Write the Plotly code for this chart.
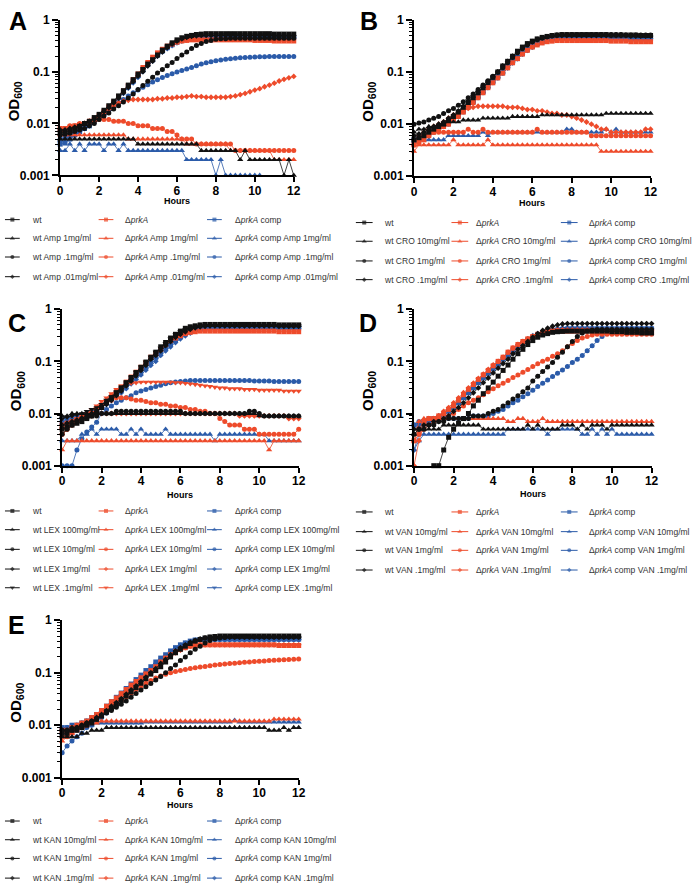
import plotly.graph_objects as go

W, H = 696, 892

HOURS = [0, 0.25, 0.5, 0.75, 1, 1.25, 1.5, 1.75,
         2, 2.25, 2.5, 2.75, 3, 3.25, 3.5, 3.75,
         4, 4.25, 4.5, 4.75, 5, 5.25, 5.5, 5.75,
         6, 6.25, 6.5, 6.75, 7, 7.25, 7.5, 7.75,
         8, 8.25, 8.5, 8.75, 9, 9.25, 9.5, 9.75,
         10, 10.25, 10.5, 10.75, 11, 11.25, 11.5, 11.75,
         12]
X_TICKS = [0, 2, 4, 6, 8, 10, 12]
Y_TICKS = [0.001, 0.01, 0.1, 1]
Y_TICK_TEXT = ["0.001", "0.01", "0.1", "1"]

# ---------------- Panel A (Amp) ----------------
A_WT = [.0065,.0068,.0072,.0078,.0088,.010,.011,.013,
        .015,.018,.022,.027,.034,.043,.055,.070,
        .090,.11,.14,.17,.21,.26,.31,.36,
        .41,.45,.48,.50,.52,.53,.54,.54,
        .54,.54,.54,.54,.54,.54,.54,.54,
        .54,.54,.54,.54,.53,.53,.53,.53,
        .53]
A_WT_AMP1 = [.005,.005,.005,.005,.005,.005,.005,.005,
             .005,.005,.005,.005,.005,.005,.005,.005,
             .004,.004,.004,.004,.004,.004,.004,.004,
             .004,.004,.004,.004,.004,.003,.003,.003,
             .003,.003,.003,.003,.003,.002,.003,.002,
             .002,.002,.002,.002,.002,.002,.001,.002,
             .001]
A_WT_AMP01 = [.006,.0062,.0065,.007,.0075,.008,.009,.010,
              .012,.014,.016,.019,.022,.026,.031,.037,
              .045,.054,.065,.078,.094,.11,.13,.15,
              .18,.21,.24,.28,.32,.35,.38,.40,
              .42,.43,.43,.44,.44,.44,.44,.44,
              .44,.44,.44,.44,.44,.44,.44,.44,
              .44]
A_WT_AMP001 = [.0075,.0075,.008,.0085,.009,.010,.011,.012,
               .014,.017,.020,.025,.031,.039,.050,.064,
               .082,.10,.13,.16,.20,.24,.29,.34,
               .39,.43,.46,.48,.49,.50,.50,.50,
               .50,.50,.50,.50,.50,.50,.50,.50,
               .50,.50,.50,.50,.49,.49,.49,.49,
               .49]
A_D = [.008,.008,.0085,.009,.0095,.010,.011,.012,
       .014,.017,.021,.026,.033,.042,.054,.070,
       .090,.12,.15,.19,.23,.27,.31,.34,
       .37,.39,.40,.41,.41,.41,.41,.41,
       .41,.41,.41,.41,.41,.41,.41,.41,
       .40,.40,.40,.40,.39,.39,.39,.39,
       .39]
A_D_AMP1 = [.006,.006,.006,.006,.006,.006,.006,.006,
            .006,.006,.006,.006,.006,.006,.005,.005,
            .005,.005,.005,.005,.005,.005,.005,.005,
            .005,.005,.004,.004,.004,.004,.004,.004,
            .004,.004,.004,.003,.003,.003,.003,.003,
            .003,.003,.003,.003,.002,.002,.002,.002,
            .002]
A_D_AMP01 = [.008,.008,.009,.009,.010,.010,.011,.011,
             .012,.012,.012,.011,.011,.011,.010,.010,
             .009,.009,.009,.008,.008,.008,.007,.007,
             .006,.005,.005,.005,.004,.004,.004,.004,
             .004,.004,.004,.004,.003,.003,.003,.003,
             .003,.003,.003,.003,.003,.003,.003,.003,
             .003]
A_D_AMP001 = [.007,.007,.008,.008,.009,.010,.011,.012,
              .014,.016,.019,.022,.025,.027,.028,.029,
              .029,.029,.029,.029,.030,.030,.031,.031,
              .032,.032,.033,.034,.033,.033,.032,.032,
              .032,.032,.032,.033,.034,.036,.038,.041,
              .044,.047,.051,.055,.060,.066,.071,.076,
              .081]
A_C = [.004,.0042,.005,.006,.007,.008,.009,.011,
       .013,.016,.020,.025,.032,.041,.052,.066,
       .084,.11,.14,.17,.21,.25,.29,.33,
       .37,.40,.42,.44,.45,.46,.46,.46,
       .46,.46,.46,.46,.46,.46,.46,.46,
       .46,.46,.46,.46,.46,.46,.46,.46,
       .46]
A_C_AMP1 = [.003,.003,.004,.003,.004,.003,.004,.004,
            .004,.003,.004,.004,.003,.004,.003,.003,
            .003,.003,.003,.003,.003,.003,.003,.003,
            .003,.003,.002,.002,.002,.002,.002,.002,
            .001,.002,.001,.001,.001,.001,.001,.001,
            .001,.001,None,None,None,None,None,None,
            None]
A_C_AMP01 = [.005,.0055,.006,.007,.008,.009,.010,.011,
             .013,.015,.018,.021,.025,.029,.034,.039,
             .044,.050,.056,.063,.070,.077,.084,.091,
             .098,.105,.112,.12,.13,.14,.148,.155,
             .162,.168,.173,.178,.182,.185,.188,.19,
             .192,.193,.194,.195,.195,.195,.195,.195,
             .195]
A_C_AMP001 = [.0045,.005,.0055,.006,.007,.008,.009,.011,
              .013,.016,.019,.024,.030,.038,.048,.061,
              .078,.10,.13,.16,.20,.24,.28,.32,
              .36,.39,.41,.43,.44,.45,.45,.45,
              .45,.45,.45,.45,.45,.45,.45,.45,
              .45,.45,.45,.45,.45,.45,.45,.45,
              .45]

# ---------------- Panel B (CRO) ----------------
B_WT = [.005,.0055,.006,.007,.008,.009,.010,.012,
        .014,.017,.021,.026,.032,.040,.050,.063,
        .079,.10,.13,.16,.20,.25,.30,.35,
        .39,.43,.46,.48,.50,.51,.52,.52,
        .52,.52,.52,.52,.52,.52,.52,.52,
        .51,.51,.51,.51,.51,.51,.50,.50,
        .50]
B_WT_CRO10 = [.007,.008,.008,.009,.009,.010,.010,.011,
              .011,.011,.012,.012,.012,.012,.013,.013,
              .013,.013,.013,.013,.014,.014,.014,.014,
              .014,.014,.015,.015,.015,.015,.015,.015,
              .015,.015,.015,.015,.015,.015,.015,.016,
              .016,.016,.016,.016,.016,.016,.016,.016,
              .016]
B_WT_CRO1 = [.010,.0105,.011,.012,.013,.014,.016,.018,
             .020,.023,.027,.032,.038,.046,.056,.068,
             .083,.10,.12,.15,.19,.23,.28,.33,
             .38,.42,.45,.48,.50,.51,.52,.52,
             .52,.52,.52,.52,.52,.52,.52,.52,
             .52,.52,.52,.51,.51,.51,.51,.51,
             .51]
B_WT_CRO01 = [.006,.0065,.007,.008,.009,.010,.011,.013,
              .015,.018,.022,.027,.033,.041,.051,.064,
              .080,.10,.13,.16,.20,.24,.29,.34,
              .38,.42,.45,.47,.49,.50,.50,.50,
              .50,.50,.50,.50,.50,.50,.50,.50,
              .50,.50,.50,.50,.49,.49,.49,.49,
              .49]
B_D = [.004,.0045,.005,.006,.007,.008,.009,.010,
       .012,.014,.017,.021,.026,.032,.040,.050,
       .062,.077,.095,.12,.15,.18,.22,.26,
       .30,.33,.36,.38,.39,.40,.40,.40,
       .40,.40,.40,.40,.40,.40,.40,.40,
       .39,.39,.39,.39,.38,.38,.38,.38,
       .38]
B_D_CRO10 = [.003,.004,.004,.004,.004,.004,.004,.004,
             .005,.004,.004,.004,.004,.004,.004,.005,
             .004,.004,.004,.004,.004,.004,.004,.004,
             .004,.004,.004,.004,.004,.004,.004,.004,
             .004,.004,.004,.004,.004,.004,.003,.003,
             .003,.003,.003,.003,.003,.003,.003,.003,
             .003]
B_D_CRO1 = [.004,.005,.006,.006,.007,.007,.007,.007,
            .007,.007,.007,.008,.007,.007,.008,.007,
            .007,.007,.007,.007,.007,.007,.007,.007,
            .007,.008,.007,.007,.007,.007,.007,.007,
            .007,.007,.007,.007,.006,.006,.006,.006,
            .006,.006,.006,.006,.006,.006,.006,.006,
            .006]
B_D_CRO01 = [.005,.006,.007,.008,.009,.010,.011,.013,
             .015,.017,.019,.020,.021,.022,.022,.022,
             .022,.022,.022,.021,.021,.021,.020,.019,
             .019,.018,.018,.017,.016,.016,.015,.015,
             .014,.013,.012,.011,.010,.009,.008,.008,
             .007,.007,.007,.007,.007,.007,.007,.008,
             .008]
B_C = [.005,.0055,.006,.007,.008,.009,.010,.011,
       .013,.015,.018,.022,.027,.034,.042,.053,
       .066,.082,.10,.13,.16,.19,.23,.27,
       .31,.35,.38,.41,.43,.44,.45,.45,
       .45,.45,.45,.45,.45,.45,.45,.45,
       .45,.45,.45,.44,.44,.44,.44,.44,
       .44]
B_C_CRO10 = [.004,.005,.005,.005,.005,.005,.005,.006,
             .006,.006,.006,.006,.006,.006,.007,.006,
             .007,.007,.007,.007,.007,.007,.007,.007,
             .007,.007,.007,.007,.007,.007,.007,.008,
             .008,.007,.007,.007,.007,.007,.007,.008,
             .007,.008,.007,.007,.007,.007,.007,.007,
             .007]
B_C_CRO1 = [.0045,.005,.0055,.006,.007,.008,.009,.010,
            .012,.014,.017,.021,.026,.032,.040,.050,
            .062,.077,.095,.12,.15,.18,.22,.26,
            .30,.34,.37,.40,.42,.43,.44,.44,
            .44,.44,.44,.44,.44,.44,.44,.44,
            .44,.44,.43,.43,.43,.43,.43,.43,
            .43]
B_C_CRO01 = [.005,.0055,.006,.0065,.0075,.0085,.0095,.011,
             .013,.015,.018,.022,.027,.033,.041,.051,
             .064,.079,.097,.12,.15,.18,.22,.26,
             .30,.34,.37,.40,.42,.43,.44,.44,
             .44,.44,.44,.44,.44,.44,.44,.44,
             .44,.44,.44,.44,.44,.44,.44,.44,
             .44]

# ---------------- Panel C (LEX) ----------------
C_WT = [.005,.0055,.006,.0065,.007,.008,.009,.011,
        .013,.016,.020,.025,.031,.039,.049,.061,
        .077,.097,.12,.15,.19,.23,.28,.33,
        .38,.43,.46,.48,.50,.51,.51,.51,
        .51,.51,.51,.51,.51,.51,.51,.51,
        .51,.51,.51,.51,.50,.50,.50,.50,
        .50]
C_WT_LEX100 = [.009,.009,.010,.010,.010,.010,.010,.010,
               .010,.010,.010,.010,.010,.010,.010,.010,
               .010,.010,.010,.010,.010,.010,.010,.010,
               .010,.010,.010,.010,.010,.010,.010,.010,
               .010,.010,.010,.010,.010,.010,.010,.010,
               .009,.009,.009,.009,.009,.009,.009,.009,
               .009]
C_WT_LEX10 = [.004,.005,.006,.007,.008,.008,.009,.009,
              .010,.010,.010,.011,.011,.011,.011,.011,
              .011,.011,.011,.011,.011,.011,.011,.011,
              .011,.010,.010,.010,.010,.010,.010,.010,
              .010,.010,.010,.010,.010,.010,.011,.011,
              .010,.009,.009,.009,.009,.009,.009,.009,
              .009]
C_WT_LEX1 = [.006,.0065,.007,.0075,.008,.009,.010,.011,
             .013,.015,.018,.022,.027,.034,.042,.053,
             .067,.084,.11,.13,.16,.20,.24,.29,
             .33,.37,.41,.44,.46,.47,.48,.48,
             .48,.48,.48,.48,.48,.48,.48,.48,
             .48,.48,.48,.48,.47,.47,.47,.47,
             .47]
C_WT_LEX01 = [.008,.0085,.009,.0095,.010,.011,.012,.013,
              .015,.018,.021,.026,.032,.040,.050,.062,
              .078,.097,.12,.15,.18,.22,.27,.32,
              .37,.41,.44,.46,.47,.48,.48,.48,
              .48,.48,.48,.48,.48,.48,.48,.48,
              .48,.48,.48,.48,.48,.48,.48,.48,
              .48]
C_D = [.006,.0065,.007,.0075,.008,.009,.010,.012,
       .014,.017,.021,.026,.032,.040,.050,.062,
       .077,.095,.12,.14,.17,.21,.25,.28,
       .31,.34,.36,.37,.38,.38,.38,.38,
       .38,.38,.38,.38,.38,.38,.38,.38,
       .38,.38,.38,.38,.37,.37,.37,.37,
       .37]
C_D_LEX100 = [.002,.003,.003,.003,.003,.003,.003,.003,
              .003,.003,.003,.003,.003,.003,.003,.003,
              .003,.003,.003,.003,.003,.003,.003,.003,
              .003,.003,.003,.003,.003,.003,.003,.003,
              .003,.003,.003,.003,.003,.003,.003,.003,
              .003,.003,.002,.003,.003,.003,.003,.003,
              .003]
C_D_LEX10 = [.004,.005,.006,.007,.008,.009,.010,.012,
             .014,.016,.018,.020,.020,.020,.019,.018,
             .018,.017,.016,.016,.015,.015,.014,.014,
             .013,.013,.012,.012,.011,.011,.010,.010,
             .008,.007,.006,.006,.006,.005,.005,.005,
             .004,.004,.004,.004,.004,.004,.004,.004,
             .005]
C_D_LEX1 = [.004,.005,.006,.007,.008,.009,.009,.010,
            .010,.010,.010,.010,.010,.010,.010,.010,
            .010,.010,.010,.010,.010,.010,.010,.010,
            .010,.010,.010,.010,.010,.010,.010,.010,
            .010,.010,.010,.010,.009,.009,.009,.009,
            .009,.009,.009,.009,.009,.009,.008,.008,
            .008]
C_D_LEX01 = [.005,.006,.007,.008,.009,.010,.012,.014,
             .017,.020,.024,.029,.034,.037,.038,.039,
             .040,.040,.040,.040,.040,.040,.040,.039,
             .039,.038,.037,.036,.035,.034,.033,.032,
             .031,.031,.030,.030,.030,.029,.029,.029,
             .028,.028,.028,.028,.028,.027,.027,.027,
             .027]
C_C = [.007,.0072,.0075,.008,.0085,.009,.010,.012,
       .014,.017,.020,.024,.029,.035,.043,.053,
       .065,.080,.10,.12,.15,.18,.22,.26,
       .30,.34,.37,.40,.42,.43,.44,.44,
       .44,.44,.44,.44,.44,.44,.44,.44,
       .44,.44,.44,.44,.44,.44,.44,.44,
       .44]
C_C_LEX100 = [.003,.003,.003,.003,.004,.004,.005,.004,
              .005,.005,.005,.005,.004,.004,.005,.004,
              .005,.004,.004,.004,.004,.005,.004,.004,
              .004,.004,.004,.004,.004,.004,.004,.003,
              .004,.004,.004,.004,.004,.004,.004,.004,
              .004,.004,.003,.003,.003,.003,.003,.003,
              .003]
C_C_LEX10 = [.001,.001,.001,.002,.0033,.0044,.0055,.0068,
             .010,.012,.014,.016,.018,.020,.022,.025,
             .027,.029,.031,.033,.035,.037,.039,.040,
             .041,.042,.043,.043,.043,.043,.043,.043,
             .043,.043,.043,.043,.043,.043,.043,.042,
             .042,.042,.042,.041,.041,.041,.041,.041,
             .041]
C_C_LEX1 = [.006,.0065,.007,.0075,.008,.009,.010,.011,
            .013,.015,.018,.021,.025,.030,.037,.045,
            .055,.068,.084,.10,.13,.16,.19,.23,
            .27,.31,.35,.38,.40,.42,.43,.43,
            .43,.43,.43,.43,.43,.43,.43,.43,
            .43,.43,.43,.43,.43,.43,.43,.43,
            .43]
C_C_LEX01 = [.008,.008,.0085,.009,.0095,.010,.011,.012,
             .014,.017,.020,.025,.030,.037,.046,.057,
             .071,.088,.11,.13,.16,.20,.24,.28,
             .32,.36,.39,.41,.43,.44,.45,.45,
             .45,.45,.45,.45,.45,.45,.45,.45,
             .45,.45,.45,.45,.45,.45,.45,.45,
             .45]

# ---------------- Panel D (VAN) ----------------
D_WT = [None,None,None,None,.001,.001,.002,.0035,
        .005,.0065,.008,.010,.014,.018,.024,.031,
        .040,.052,.067,.085,.11,.14,.17,.21,
        .25,.29,.32,.34,.36,.37,.375,.38,
        .38,.38,.38,.38,.38,.38,.38,.38,
        .37,.37,.37,.36,.36,.36,.35,.35,
        .35]
D_WT_VAN10 = [.004,.005,.005,.005,.005,.005,.006,.006,
              .006,.006,.006,.006,.006,.006,.005,.005,
              .005,.005,.005,.005,.005,.005,.005,.006,
              .005,.006,.005,.005,.005,.005,.006,.006,
              .006,.005,.006,.005,.006,.006,.006,.005,
              .006,.006,.006,.006,.006,.006,.006,.006,
              .006]
D_WT_VAN1 = [.004,.005,.005,.006,.006,.007,.007,.008,
             .008,.008,.008,.008,.009,.009,.009,.010,
             .011,.012,.014,.016,.019,.022,.026,.031,
             .042,.052,.064,.078,.095,.12,.15,.19,
             .24,.30,.35,.38,.40,.41,.41,.41,
             .41,.41,.41,.41,.41,.41,.41,.41,
             .41]
D_WT_VAN01 = [.005,.005,.006,.006,.007,.007,.008,.009,
              .011,.013,.016,.020,.025,.031,.039,.048,
              .060,.074,.091,.11,.14,.17,.20,.24,
              .29,.34,.39,.43,.47,.50,.52,.53,
              .53,.53,.53,.53,.53,.53,.53,.53,
              .53,.53,.53,.53,.53,.53,.53,.53,
              .53]
D_D = [.003,.005,.007,.008,.008,.009,.010,.012,
       .014,.018,.023,.029,.036,.045,.055,.067,
       .082,.10,.12,.15,.18,.21,.24,.27,
       .30,.33,.35,.37,.38,.38,.38,.38,
       .38,.38,.38,.38,.38,.38,.38,.38,
       .38,.38,.38,.37,.37,.37,.37,.37,
       .37]
D_D_VAN10 = [.003,.007,.008,.008,.008,.008,.008,.008,
             .008,.008,.008,.008,.008,.008,.008,.008,
             .008,.008,.008,.007,.007,.008,.008,.007,
             .007,.007,.008,.007,.007,.007,.007,.007,
             .007,.007,.007,.007,.007,.007,.007,.007,
             .007,.007,.007,.007,.007,.007,.007,.007,
             .007]
D_D_VAN1 = [.003,.004,.005,.006,.007,.008,.008,.009,
            .010,.012,.014,.016,.018,.020,.023,.026,
            .030,.034,.038,.043,.049,.055,.062,.070,
            .080,.090,.10,.11,.125,.14,.16,.19,
            .22,.25,.28,.30,.32,.33,.33,.33,
            .33,.33,.33,.33,.33,.33,.33,.33,
            .33]
D_D_VAN01 = [.001,.003,.006,.008,.008,.009,.011,.013,
             .016,.020,.025,.031,.038,.047,.057,.070,
             .085,.10,.12,.15,.18,.21,.24,.27,
             .30,.33,.36,.38,.39,.40,.40,.40,
             .40,.40,.40,.40,.40,.40,.40,.40,
             .40,.40,.40,.40,.40,.40,.40,.40,
             .40]
D_C = [.006,.006,.007,.007,.008,.008,.009,.011,
       .013,.016,.020,.025,.031,.039,.048,.059,
       .072,.088,.11,.13,.16,.19,.22,.26,
       .29,.32,.35,.37,.39,.40,.41,.42,
       .42,.42,.42,.42,.42,.42,.42,.42,
       .42,.42,.42,.42,.42,.42,.42,.42,
       .42]
D_C_VAN10 = [.002,.003,.004,.004,.004,.004,.004,.004,
             .004,.004,.004,.004,.004,.004,.004,.004,
             .004,.004,.004,.005,.005,.005,.005,.005,
             .005,.005,.005,.004,.005,.005,.005,.005,
             .005,.005,.004,.004,.005,.004,.005,.004,
             .005,.004,.004,.004,.004,.004,.004,.004,
             .004]
D_C_VAN1 = [.006,.007,.007,.008,.008,.008,.008,.008,
            .008,.008,.008,.008,.009,.009,.009,.009,
            .010,.011,.012,.014,.016,.018,.021,.024,
            .028,.033,.038,.044,.051,.059,.068,.080,
            .095,.11,.13,.16,.20,.25,.30,.35,
            .39,.41,.42,.42,.42,.42,.42,.42,
            .42]
D_C_VAN01 = [.002,.004,.006,.007,.008,.009,.010,.012,
             .014,.017,.021,.026,.032,.040,.049,.060,
             .074,.090,.11,.13,.16,.19,.23,.27,
             .31,.34,.37,.39,.41,.42,.43,.43,
             .43,.43,.43,.43,.43,.43,.43,.43,
             .43,.43,.43,.43,.43,.43,.43,.43,
             .43]

# ---------------- Panel E (KAN) ----------------
E_WT = [.007,.007,.008,.008,.009,.010,.011,.013,
        .015,.018,.021,.025,.030,.036,.043,.052,
        .063,.077,.094,.11,.13,.16,.20,.24,
        .28,.32,.36,.40,.43,.46,.48,.49,
        .50,.50,.50,.50,.50,.50,.50,.50,
        .50,.50,.50,.50,.50,.50,.50,.50,
        .50]
E_WT_KAN10 = [.006,.006,.006,.006,.007,.007,.008,.008,
              .008,.009,.009,.009,.009,.009,.009,.009,
              .009,.009,.009,.009,.009,.009,.009,.009,
              .009,.009,.009,.009,.009,.009,.009,.009,
              .009,.009,.009,.009,.009,.009,.009,.009,
              .009,.009,.008,.008,.008,.009,.008,.009,
              .009]
E_WT_KAN1 = [.008,.008,.008,.009,.010,.011,.012,.013,
             .015,.017,.019,.022,.025,.029,.034,.040,
             .047,.054,.062,.073,.085,.10,.12,.14,
             .17,.20,.24,.28,.32,.37,.41,.44,
             .46,.47,.48,.48,.48,.48,.48,.48,
             .48,.48,.48,.48,.48,.48,.48,.48,
             .48]
E_WT_KAN01 = [.008,.008,.009,.009,.010,.011,.012,.014,
              .016,.019,.023,.027,.032,.039,.047,.056,
              .068,.082,.10,.12,.15,.18,.22,.26,
              .30,.34,.38,.41,.44,.46,.47,.48,
              .48,.48,.48,.48,.48,.48,.48,.48,
              .48,.48,.48,.48,.48,.48,.48,.48,
              .48]
E_D = [.008,.008,.009,.010,.011,.012,.014,.016,
       .019,.023,.028,.033,.040,.048,.058,.068,
       .080,.095,.11,.13,.16,.19,.22,.25,
       .28,.30,.32,.33,.34,.34,.34,.34,
       .34,.34,.34,.34,.34,.34,.34,.34,
       .34,.34,.34,.34,.33,.33,.33,.33,
       .33]
E_D_KAN10 = [.005,.006,.007,.008,.009,.010,.011,.011,
             .012,.012,.012,.012,.012,.012,.012,.012,
             .012,.012,.012,.012,.012,.012,.012,.012,
             .012,.012,.012,.012,.012,.012,.012,.012,
             .012,.012,.012,.012,.012,.012,.012,.012,
             .012,.012,.012,.013,.013,.013,.013,.013,
             .013]
E_D_KAN1 = [.006,.006,.007,.008,.009,.010,.012,.014,
            .016,.019,.022,.026,.030,.035,.041,.048,
            .055,.063,.071,.079,.087,.094,.10,.106,
            .11,.115,.12,.124,.128,.132,.136,.14,
            .143,.146,.149,.152,.155,.158,.16,.163,
            .165,.167,.17,.172,.174,.176,.178,.18,
            .182]
E_D_KAN01 = [.006,.007,.008,.009,.010,.011,.013,.015,
             .018,.021,.025,.030,.036,.043,.052,.062,
             .074,.088,.10,.12,.15,.18,.21,.24,
             .27,.30,.32,.33,.34,.34,.34,.34,
             .34,.34,.34,.34,.34,.34,.34,.34,
             .34,.34,.34,.34,.34,.34,.34,.34,
             .34]
E_C = [.009,.009,.010,.010,.011,.012,.014,.016,
       .019,.023,.028,.034,.041,.050,.061,.074,
       .090,.11,.13,.16,.19,.22,.26,.30,
       .34,.37,.40,.42,.43,.44,.44,.44,
       .44,.44,.44,.44,.44,.44,.44,.44,
       .44,.44,.44,.44,.44,.44,.44,.44,
       .44]
E_C_KAN10 = [.007,.008,.008,.009,.009,.010,.010,.011,
             .011,.011,.011,.011,.011,.011,.011,.011,
             .011,.0115,.0115,.0115,.0115,.0115,.0115,.0115,
             .0115,.0115,.0115,.0115,.0115,.0115,.0115,.0115,
             .0115,.0115,.0115,.0125,.0115,.0115,.0115,.0115,
             .0115,.0115,.0115,.0115,.0115,.0115,.0115,.0115,
             .0115]
E_C_KAN1 = [.003,.004,.005,.006,.007,.009,.010,.012,
            .014,.017,.021,.026,.032,.040,.049,.060,
            .073,.088,.11,.13,.16,.19,.23,.27,
            .31,.35,.38,.40,.42,.43,.43,.43,
            .43,.43,.43,.43,.43,.43,.43,.43,
            .43,.43,.43,.43,.43,.43,.43,.43,
            .43]
E_C_KAN01 = [.0085,.009,.0095,.010,.011,.012,.013,.015,
             .018,.021,.026,.031,.038,.046,.056,.068,
             .083,.10,.12,.15,.18,.21,.25,.29,
             .33,.36,.39,.41,.42,.43,.43,.43,
             .43,.43,.43,.43,.43,.43,.43,.43,
             .43,.43,.43,.43,.43,.43,.43,.43,
             .43]

# ---------------- structure ----------------
A_COND = ["", " Amp 1mg/ml", " Amp .1mg/ml", " Amp .01mg/ml"]
B_COND = ["", " CRO 10mg/ml", " CRO 1mg/ml", " CRO .1mg/ml"]
C_COND = ["", " LEX 100mg/ml", " LEX 10mg/ml", " LEX 1mg/ml", " LEX .1mg/ml"]
D_COND = ["", " VAN 10mg/ml", " VAN 1mg/ml", " VAN .1mg/ml"]
E_COND = ["", " KAN 10mg/ml", " KAN 1mg/ml", " KAN .1mg/ml"]

STRAINS = ["wt", "\u0394<i>prkA</i>", "\u0394<i>prkA</i> comp"]
COLORS = ["#111111", "#EE4B2B", "#2B5BA9"]
SYMBOLS = [("square", 5), ("triangle-up", 5.5), ("circle", 5), ("diamond", 4.5), ("triangle-down", 5.5)]

PANELS = [
    dict(letter="A", box=(58, 295, 13, 171), hours_y=195, letter_xy=(15, 14),
         rows=[216, 235, 254, 274], side="L", cond=A_COND,
         data=[[A_WT, A_WT_AMP1, A_WT_AMP01, A_WT_AMP001],
               [A_D, A_D_AMP1, A_D_AMP01, A_D_AMP001],
               [A_C, A_C_AMP1, A_C_AMP01, A_C_AMP001]]),
    dict(letter="B", box=(417, 657, 13, 172), hours_y=197, letter_xy=(371, 14),
         rows=[219, 238, 258, 277], side="R", cond=B_COND,
         data=[[B_WT, B_WT_CRO10, B_WT_CRO1, B_WT_CRO01],
               [B_D, B_D_CRO10, B_D_CRO1, B_D_CRO01],
               [B_C, B_C_CRO10, B_C_CRO1, B_C_CRO01]]),
    dict(letter="C", box=(60, 300, 307, 466), hours_y=494, letter_xy=(14, 321),
         rows=[512, 531, 551, 571, 590], side="L", cond=C_COND,
         data=[[C_WT, C_WT_LEX100, C_WT_LEX10, C_WT_LEX1, C_WT_LEX01],
               [C_D, C_D_LEX100, C_D_LEX10, C_D_LEX1, C_D_LEX01],
               [C_C, C_C_LEX100, C_C_LEX10, C_C_LEX1, C_C_LEX01]]),
    dict(letter="D", box=(417, 658, 307, 466), hours_y=493, letter_xy=(370, 321),
         rows=[513, 533, 552, 572], side="R", cond=D_COND,
         data=[[D_WT, D_WT_VAN10, D_WT_VAN1, D_WT_VAN01],
               [D_D, D_D_VAN10, D_D_VAN1, D_D_VAN01],
               [D_C, D_C_VAN10, D_C_VAN1, D_C_VAN01]]),
    dict(letter="E", box=(60, 300, 623, 783), hours_y=809, letter_xy=(14, 628),
         rows=[827, 846, 865, 885], side="L", cond=E_COND,
         data=[[E_WT, E_WT_KAN10, E_WT_KAN1, E_WT_KAN01],
               [E_D, E_D_KAN10, E_D_KAN1, E_D_KAN01],
               [E_C, E_C_KAN10, E_C_KAN1, E_C_KAN01]]),
]

LEG_COLS = {"L": dict(line_x=[2, 97, 207], line_len=15, text_x=[27, 122, 233]),
            "R": dict(line_x=[358, 455, 566], line_len=17, text_x=[385, 478, 593])}

# sanity check of lengths
bad = []
for p in PANELS:
    for si, row in enumerate(p["data"]):
        for ci, vals in enumerate(row):
            if len(vals) != len(HOURS):
                bad.append(f"{p['letter']} strain{si} cond{ci}: {len(vals)}")
if bad:
    raise SystemExit("Length mismatch: " + "; ".join(bad))

FONT = "Arial, Liberation Sans, sans-serif"
fig = go.Figure()
layout = dict(width=W, height=H, margin=dict(l=0, r=0, t=0, b=0), autosize=False,
              paper_bgcolor="white", plot_bgcolor="rgba(0,0,0,0)", showlegend=False,
              font=dict(family=FONT, color="black"))
annotations = []

MINOR = [m * 10 ** e for e in (-3, -2, -1) for m in range(2, 10)]


def px_x(v):
    return v / W


def px_y(v):
    return 1 - v / H


# legend overlay axis in pixel units (defined first so data subplots draw over it)
layout["xaxis"] = dict(domain=[0, 1], range=[0, W], visible=False, fixedrange=True)
layout["yaxis"] = dict(domain=[0, 1], range=[H, 0], visible=False, fixedrange=True)

for i, p in enumerate(PANELS, start=2):
    x0, x1, y0, y1 = p["box"]
    xa, ya = f"xaxis{i}", f"yaxis{i}"
    layout[xa] = dict(domain=[px_x(x0), px_x(x1)], anchor=f"y{i}", range=[0, 12],
                      tickmode="array", tickvals=X_TICKS, ticks="outside", ticklen=5,
                      tickwidth=1.8, tickcolor="black", showline=True, linewidth=2,
                      linecolor="black", showgrid=False, zeroline=False,
                      ticklabelstandoff=-2,
                      tickfont=dict(size=12, family=FONT, color="black", weight="bold"))
    layout[ya] = dict(domain=[px_y(y1), px_y(y0)], anchor=f"x{i}", type="log",
                      range=[-3, 0], tickmode="array", tickvals=Y_TICKS,
                      ticktext=Y_TICK_TEXT, ticks="outside", ticklen=6, tickwidth=1.8,
                      tickcolor="black", showline=True, linewidth=2, linecolor="black",
                      showgrid=False, zeroline=False,
                      minor=dict(tickmode="array", tickvals=MINOR, ticks="outside",
                                 ticklen=3, tickwidth=1, tickcolor="black", showgrid=False),
                      tickfont=dict(size=12, family=FONT, color="black", weight="bold"))
    # draw comp first, then ΔprkA, then wt on top
    for si in (2, 1, 0):
        for ci, vals in enumerate(p["data"][si]):
            sym, size = SYMBOLS[ci]
            fig.add_trace(go.Scatter(
                x=HOURS, y=vals, mode="lines+markers", xaxis=f"x{i}", yaxis=f"y{i}",
                name=STRAINS[si] + p["cond"][ci], cliponaxis=False,
                line=dict(color=COLORS[si], width=0.8),
                marker=dict(symbol=sym, size=size, color=COLORS[si], line=dict(width=0)),
                hoverinfo="x+y+name"))
    # axis titles and panel letter
    annotations.append(dict(xref="paper", yref="paper", x=px_x(x0 - 46), y=px_y((y0 + y1) / 2 + 4),
                            text="<b>OD<sub>600</sub></b>", textangle=-90, showarrow=False,
                            font=dict(size=15, family=FONT, color="black"),
                            xanchor="center", yanchor="middle"))
    annotations.append(dict(xref="paper", yref="paper", x=px_x((x0 + x1) / 2), y=px_y(p["hours_y"] + 2),
                            text="<b>Hours</b>", showarrow=False,
                            font=dict(size=9, family=FONT, color="black"),
                            xanchor="center", yanchor="middle"))
    lx, ly = p["letter_xy"]
    annotations.append(dict(xref="paper", yref="paper", x=px_x(lx), y=px_y(ly),
                            text=f"<b>{p['letter']}</b>", showarrow=False,
                            font=dict(size=25, family=FONT, color="black"),
                            xanchor="center", yanchor="middle"))

# legend keys (line + symbol) and labels
for p in PANELS:
    cols = LEG_COLS[p["side"]]
    for si in range(3):
        for ci, ry in enumerate(p["rows"]):
            lx0 = cols["line_x"][si]
            lx1 = lx0 + cols["line_len"]
            sym, size = SYMBOLS[ci]
            fig.add_trace(go.Scatter(
                x=[lx0, (lx0 + lx1) / 2, lx1], y=[ry, ry, ry], mode="lines+markers",
                xaxis="x", yaxis="y", cliponaxis=False, hoverinfo="skip",
                line=dict(color=COLORS[si], width=1),
                marker=dict(symbol=sym, size=[0, size - 1, 0], color=COLORS[si], line=dict(width=0))))
            annotations.append(dict(xref="paper", yref="paper", x=px_x(cols["text_x"][si]), y=px_y(ry),
                                    text=STRAINS[si] + p["cond"][ci], showarrow=False,
                                    font=dict(size=8.5, family=FONT, color="#333333"),
                                    xanchor="left", yanchor="middle"))

layout["annotations"] = annotations
fig.update_layout(**layout)
# remove the default page margin so the 696x892 figure fills the window exactly
fig.write_html("out.html", config={"displayModeBar": False},
               post_script="document.body.style.margin='0px';document.body.style.overflow='hidden';")
